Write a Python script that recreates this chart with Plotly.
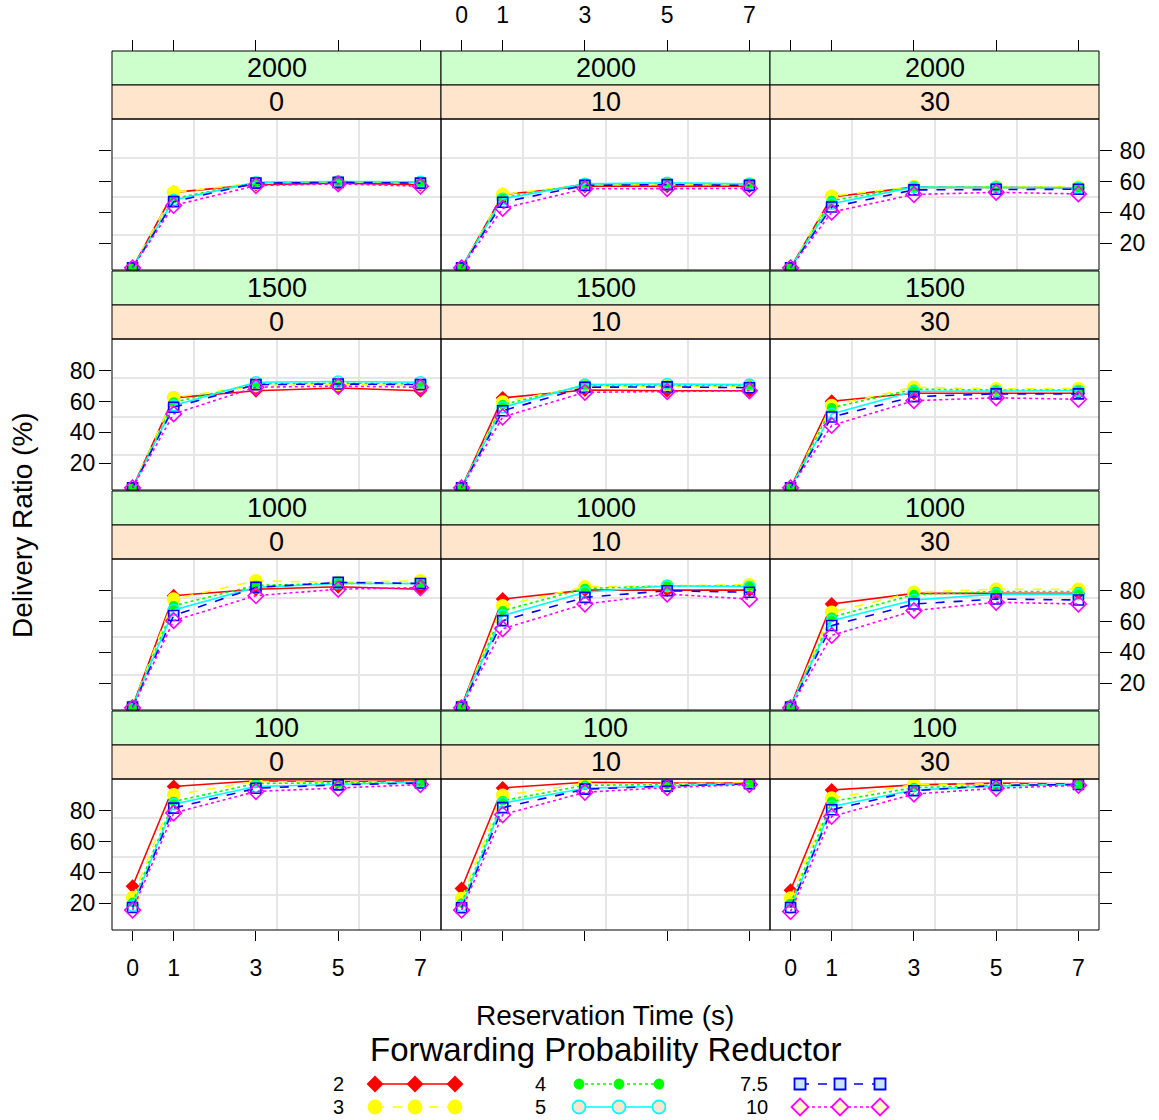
import plotly.graph_objects as go

# ---------------- data ----------------
reservation_time = [0, 1, 3, 5, 7]
x_tick_vals = [0, 1, 3, 5, 7]
y_tick_vals = [20, 40, 60, 80]
node_levels = ["2000", "1500", "1000", "100"]      # upper strip (rows)
offset_levels = ["0", "10", "30"]                 # lower strip (columns)
reductor_labels = ["2", "3", "4", "5", "7.5", "10"]

# each list: panels in order (2000,0),(2000,10),(2000,30),(1500,0)...,(100,30)
ratio_r2 = [
    [4, 53, 58, 59, 58], [4, 51.6, 57, 57, 57], [4, 50, 56.4, 56.4, 56],
    [4, 62.4, 67, 68.8, 67], [4, 62.4, 67.5, 67, 67], [4, 60.2, 65.4, 65.5, 65.4],
    [5, 76.8, 81, 82.6, 81], [5, 74.6, 80.4, 80.4, 80.4], [5, 71.4, 78.3, 78.3, 78.3],
    [31, 95.7, 99.5, 99, 99.5], [29.5, 94.8, 98.5, 98, 98], [28.4, 93.5, 96.8, 97.9, 97.5],
]
ratio_r3 = [
    [4, 53, 59, 60, 59], [4, 51.6, 58, 58.5, 58.5], [4, 50.5, 56.8, 56.5, 56.5],
    [4, 62.6, 70.3, 71, 70.3], [4, 59.6, 70, 70, 70], [4, 57.4, 69.3, 68.2, 68.5],
    [5, 74.6, 86.5, 85.4, 86.5], [5, 70.3, 82.6, 83.2, 83.9], [5, 66, 79, 81, 81],
    [23.7, 90.3, 99, 98.5, 99], [23, 90, 97.5, 97.5, 98], [23.4, 88.2, 97, 97.5, 97.5],
]
ratio_r4 = [
    [4, 49, 59.5, 60, 59.5], [4, 49.5, 58.5, 58.8, 58.5], [4, 47.7, 56.4, 56.4, 56],
    [4, 59.6, 71.5, 72, 71.5], [4, 58, 70.5, 70.5, 70.5], [4, 56, 68, 67.5, 67.5],
    [5, 70.3, 83.5, 84.7, 84.7], [5, 67, 81.5, 83, 83.2], [5, 62.8, 77.5, 79.5, 79.5],
    [20.5, 86, 97.7, 98, 98.5], [20, 86.5, 96.5, 97, 97.5], [19.8, 86, 95, 96.5, 97],
]
ratio_r5 = [
    [4, 48, 59.5, 60, 59.8], [4, 48.8, 58.5, 59.2, 58.5], [4, 45.6, 56.4, 56.4, 56],
    [4, 57.5, 72.5, 73, 72.5], [4, 56.3, 71, 71.4, 71], [4, 52, 66.7, 67, 67],
    [5, 67.5, 82.2, 84.7, 84.7], [5, 63.9, 79, 83.2, 82.6], [5, 60.6, 74, 77.8, 77.8],
    [18.3, 84.3, 95.7, 97.2, 98.5], [18, 85, 94.6, 96, 97.5], [17.2, 82.8, 93.5, 96, 97],
]
ratio_r7_5 = [
    [4, 47, 59, 59.5, 59], [4, 46.6, 57.5, 58, 57.5], [4, 43.5, 54.6, 55, 55],
    [4, 56.3, 71, 71.4, 71], [4, 54, 69.3, 69.5, 69], [4, 50, 63.2, 65, 65],
    [4.5, 63.9, 82.2, 85.4, 84.7], [4.5, 60.6, 75.7, 80, 79], [4.5, 57.4, 71.4, 74.6, 74],
    [17.2, 81.7, 94.6, 96.8, 98], [17, 82, 94, 96, 97.5], [17.2, 80.6, 93, 96.5, 97],
]
ratio_r10 = [
    [4, 44.5, 57.4, 58.5, 57], [4, 42.6, 55.3, 55.5, 55.5], [4, 40.2, 51.6, 53, 52],
    [4, 52, 69.3, 70, 69.3], [4, 50, 66, 66.5, 67], [4, 44.5, 60.6, 62.4, 61.5],
    [4, 60.6, 76.8, 81, 82], [4, 55.3, 71.4, 77.8, 74.6], [4, 51, 67.1, 72.5, 71.4],
    [15.5, 78.5, 92.5, 94.6, 97], [15.5, 77.4, 92, 95, 97], [14.6, 76.3, 90.8, 94.6, 96.5],
]
all_series = [ratio_r2, ratio_r3, ratio_r4, ratio_r5, ratio_r7_5, ratio_r10]

# ---------------- styles ----------------
colors = ["#FF0000", "#FFFF00", "#00FF00", "#00FFFF", "#0000FF", "#FF00FF"]
dashes = ["solid", "dash", "dot", "solid", "dash", "dot"]
symbols = ["diamond", "circle", "circle", "circle-open", "square-open", "diamond-open"]
msizes = [9, 12, 8, 11, 10, 12]
legend_symbols = ["diamond", "circle", "circle", "circle", "square", "diamond"]
legend_fill = ["#FF0000", "#FFFF00", "#00FF00", "#FFE5CC", "#CCE5FF", "#FFFFCC"]
legend_msize = [11, 13, 9, 13, 11, 13]

FONT = "Liberation Sans, Arial, Helvetica, sans-serif"
TICK_FS = 23
W, H = 1159, 1120
OFF = 0   # page body margin removed via post_script
col_x0 = [112, 441, 770]
col_w = 329
row_top0 = 51
row_h = 220
strip_h = 34
XR = [-0.5, 7.5]
YR = [2.6, 100.6]

def fx(px):
    return (px - OFF) / W

def fy(py):
    return 1 - (py - OFF) / H

fig = go.Figure()
layout = dict(
    width=W, height=H, margin=dict(l=0, r=0, t=0, b=0, pad=0, autoexpand=False),
    paper_bgcolor="white", plot_bgcolor="white", showlegend=False,
    font=dict(family=FONT, color="black", size=TICK_FS),
)
shapes = []
annotations = []

def ann(x, y, text, size, **kw):
    d = dict(x=fx(x), y=fy(y), xref="paper", yref="paper", text=text, showarrow=False,
             xanchor="center", yanchor="middle", font=dict(size=size))
    d.update(kw)
    annotations.append(d)

for r in range(4):
    top = row_top0 + r * row_h
    plot_top = top + 2 * strip_h
    plot_bot = 50 + (r + 1) * row_h
    for c in range(3):
        idx = r * 3 + c + 1
        sfx = "" if idx == 1 else str(idx)
        x0 = col_x0[c]
        x1 = x0 + col_w
        xa = dict(
            domain=[fx(x0), fx(x1)], range=XR, anchor="y" + sfx,
            showgrid=False, zeroline=False, showline=False, automargin=False,
            tickmode="array", tickvals=x_tick_vals,
            minor=dict(tickmode="array", tickvals=[1.5, 3.5, 5.5], showgrid=True,
                       gridcolor="#E6E6E6", gridwidth=2, ticks=""),
            fixedrange=True,
        )
        if r == 3:
            xa.update(ticks="outside", ticklen=10, tickwidth=1, tickcolor="black",
                      showticklabels=(c != 1), ticklabelstandoff=7)
        else:
            xa.update(ticks="", showticklabels=False)
        ya = dict(
            domain=[fy(plot_bot), fy(plot_top)], range=YR, anchor="x" + sfx,
            showgrid=False, zeroline=False, showline=False, automargin=False,
            tickmode="array", tickvals=y_tick_vals,
            minor=dict(tickmode="array", tickvals=[25, 50, 75], showgrid=True,
                       gridcolor="#E6E6E6", gridwidth=2, ticks=""),
            fixedrange=True,
        )
        if c == 0:
            ya.update(side="left", ticks="outside", ticklen=12, tickcolor="black",
                      showticklabels=(r in (1, 3)), ticklabelstandoff=-1)
        elif c == 2:
            ya.update(side="right", ticks="outside", ticklen=12, tickcolor="black",
                      showticklabels=(r in (0, 2)), ticklabelstandoff=3)
        else:
            ya.update(ticks="", showticklabels=False)
        layout["xaxis" + sfx] = xa
        layout["yaxis" + sfx] = ya

        for s, vals in enumerate(all_series):
            fig.add_trace(go.Scatter(
                x=reservation_time, y=vals[idx - 1], mode="lines+markers",
                xaxis="x" + sfx, yaxis="y" + sfx,
                line=dict(color=colors[s], width=1.6, dash=dashes[s]),
                marker=dict(symbol=symbols[s], size=msizes[s], color=colors[s],
                            line=dict(color=colors[s], width=1.6)),
                cliponaxis=False, hoverinfo="skip",
            ))

        # strips
        shapes.append(dict(type="rect", xref="paper", yref="paper",
                           x0=fx(x0), x1=fx(x1), y0=fy(top + strip_h), y1=fy(top),
                           fillcolor="#CCFFCC", line=dict(color="black", width=1), layer="above"))
        shapes.append(dict(type="rect", xref="paper", yref="paper",
                           x0=fx(x0), x1=fx(x1), y0=fy(plot_top), y1=fy(top + strip_h),
                           fillcolor="#FFE5CC", line=dict(color="black", width=1), layer="above"))
        # panel border
        shapes.append(dict(type="rect", xref="paper", yref="paper",
                           x0=fx(x0), x1=fx(x1), y0=fy(plot_bot), y1=fy(plot_top),
                           line=dict(color="black", width=1), layer="above"))
        ann((x0 + x1) / 2, top + strip_h / 2, node_levels[r], 27)
        ann((x0 + x1) / 2, top + 1.5 * strip_h, offset_levels[c], 27)

# top tick axes (over the strips)
for c in range(3):
    n = 13 + c
    base = "x" + str(10 + c)
    layout["xaxis" + str(n)] = dict(
        overlaying=base, side="top", anchor="free", position=fy(row_top0),
        range=XR, tickmode="array", tickvals=x_tick_vals, ticks="outside", ticklen=11,
        tickcolor="black", showticklabels=(c == 1), showgrid=False, zeroline=False,
        showline=False, ticklabelstandoff=8, fixedrange=True, automargin=False,
    )
    fig.add_trace(go.Scatter(x=[None], y=[None], xaxis="x" + str(n), yaxis="y" + str(10 + c),
                             mode="markers", hoverinfo="skip"))

# legend area axis (pixel coordinates of the page)
layout["xaxis16"] = dict(domain=[0, 1], range=[OFF, W + OFF], visible=False, fixedrange=True, anchor="y16")
layout["yaxis16"] = dict(domain=[0, fy(1070)], range=[H + OFF, 1070], visible=False, fixedrange=True,
                         anchor="x16")
leg_cols = [(346, 375), (548, 579), (770, 800)]
leg_rows = [1084, 1107]
for s in range(6):
    c, rr = s // 2, s % 2
    lx, sx = leg_cols[c]
    ly = leg_rows[rr]
    fig.add_trace(go.Scatter(
        x=[sx, sx + 40, sx + 80], y=[ly, ly, ly], xaxis="x16", yaxis="y16",
        mode="lines+markers", line=dict(color=colors[s], width=1.6, dash=dashes[s]),
        marker=dict(symbol=legend_symbols[s], size=legend_msize[s],
                    color=legend_fill[s], line=dict(color=colors[s], width=1.8)),
        cliponaxis=False, hoverinfo="skip",
    ))
    ann(lx, ly, reductor_labels[s], 20, xanchor="right")

ann(605, 1015, "Reservation Time (s)", 28)
ann(605, 1049, "Forwarding Probability Reductor", 33)
ann(22, 525, "Delivery Ratio (%)", 28, textangle=-90)

layout["shapes"] = shapes
layout["annotations"] = annotations
fig.update_layout(**layout)
fig.write_html("out.html", config={"displayModeBar": False, "staticPlot": True},
               post_script="document.body.style.margin='0px';")
